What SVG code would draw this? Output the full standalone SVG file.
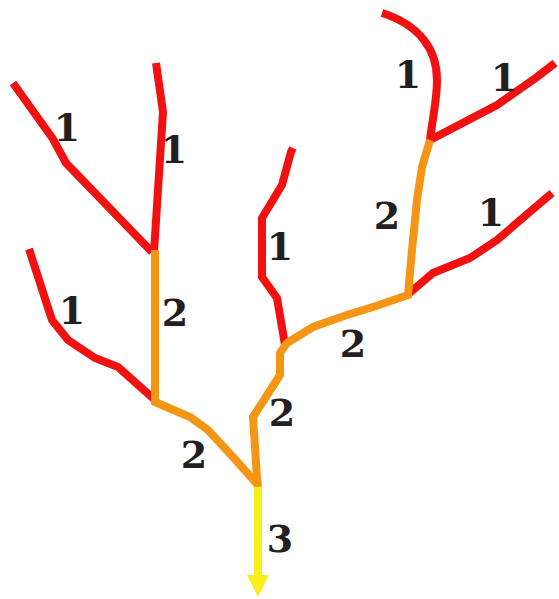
<svg xmlns="http://www.w3.org/2000/svg" width="559" height="599" viewBox="0 0 559 599">
<style>
.s{fill:none;stroke-width:8;stroke-linejoin:miter;stroke-linecap:butt}
.o1{stroke:#f21111}
.o2{stroke:#f49515}
.o3{stroke:#f8ee1c}
.t{font-family:"DejaVu Serif",serif;font-weight:bold;font-size:38px;fill:#231f20;text-anchor:middle}
</style>
<rect width="559" height="599" fill="#fff"/>
<g id="connectors">
<g id="order1">
<polyline class="s o1" points="13,83 53,139 66,163 152,252"/>
<polyline class="s o1" points="156,63 163,112 154,252"/>
<polyline class="s o1" points="29,249 52,320 68,340 95,358 118,367 155,400"/>
<path class="s o1" d="M382,13 C420,25 437,50 437,80 C437,100 433,115 430,140"/>
<polyline class="s o1" points="430,140 497,105 537,77 555,63"/>
<polyline class="s o1" points="406,296 433,273 470,258 497,240 552,193"/>
<polyline class="s o1" points="285,345 277,298 262,277 262,218 282,185 291,152 293,148"/>
</g>
<g id="order2">
<polyline class="s o2" points="155,250 155,402 190,417 208,430 233,457 258,485"/>
<polyline class="s o2" points="258,487 257,478 253,417 280,375 280,353 287,343 313,327 347,315 373,307 408,295 412,250 417,200 422,167 430,140"/>
</g>
<g id="order3">
<line class="s o3" x1="258" y1="487" x2="258" y2="578"/>
<polygon points="247,575 269,575 258,597" fill="#f8ee1c"/>
</g>
</g>
<g id="labels">
<text class="t" x="67" y="141">1</text>
<text class="t" x="174" y="163">1</text>
<text class="t" x="72" y="324">1</text>
<text class="t" x="175" y="326">2</text>
<text class="t" x="194" y="468">2</text>
<text class="t" x="282" y="426">2</text>
<text class="t" x="280" y="552">3</text>
<text class="t" x="280" y="260">1</text>
<text class="t" x="353" y="357">2</text>
<text class="t" x="387" y="229">2</text>
<text class="t" x="408" y="88">1</text>
<text class="t" x="504" y="91">1</text>
<text class="t" x="491" y="226">1</text>
</g>
</svg>
